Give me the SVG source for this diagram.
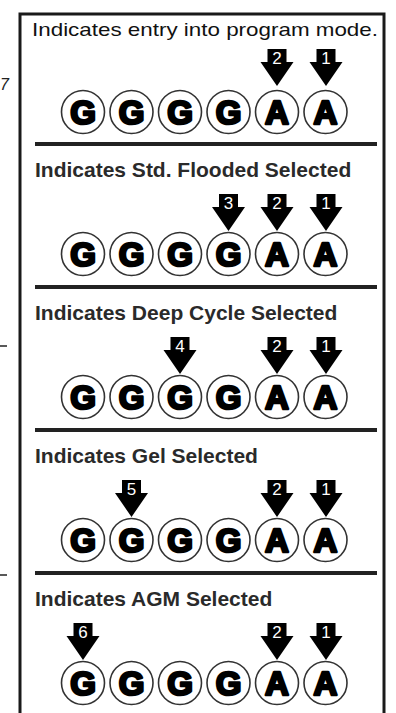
<svg xmlns="http://www.w3.org/2000/svg" width="396" height="713" viewBox="0 0 396 713">
<defs>
<style>
.frame{fill:none;stroke:#1a1a1a;stroke-width:3}
.sep{stroke:#222;stroke-width:4}
.ring{fill:#fff;stroke:#333;stroke-width:1.6}
.let{font-family:"Liberation Sans",Arial,sans-serif;font-weight:bold;font-size:33px;fill:#000;stroke:#000;stroke-width:2.6;stroke-linejoin:round;text-anchor:middle}
.num{font-family:"Liberation Sans",Arial,sans-serif;font-size:17px;fill:#fff;text-anchor:middle}
.h1{font-family:"Liberation Sans",Arial,sans-serif;font-size:19px;fill:#111}
.hb{font-family:"Liberation Sans",Arial,sans-serif;font-weight:bold;font-size:21px;fill:#2a2a2a}
.side{font-family:"Liberation Sans",Arial,sans-serif;font-style:italic;font-size:16px;fill:#222}
</style>
<circle id="c" class="ring" cx="0" cy="0" r="21.5"/>
<path id="ar" d="M-9.5,0 H9.5 V13 H16.5 L0,37 L-16.5,13 H-9.5 Z"/>
</defs>

<text class="side" x="0" y="90">7</text>
<line x1="0" y1="346" x2="7" y2="346" stroke="#222" stroke-width="1.5"/>
<line x1="0" y1="575" x2="7" y2="575" stroke="#222" stroke-width="1.5"/>

<rect class="frame" x="20" y="14" width="364" height="710"/>

<g id="connectors" class="sep">
<line x1="35" y1="144" x2="377" y2="144"/>
<line x1="35" y1="287" x2="377" y2="287"/>
<line x1="35" y1="430" x2="377" y2="430"/>
<line x1="35" y1="573" x2="377" y2="573"/>
</g>

<g id="row1">
<text class="h1" x="32" y="36" textLength="346" lengthAdjust="spacingAndGlyphs">Indicates entry into program mode.</text>
<use href="#ar" x="277" y="49"/><use href="#ar" x="326" y="49"/>
<text class="num" x="277" y="64">2</text><text class="num" x="326" y="64">1</text>
<use href="#c" x="83" y="112"/><use href="#c" x="131.5" y="112"/><use href="#c" x="180" y="112"/><use href="#c" x="228.5" y="112"/><use href="#c" x="277" y="112"/><use href="#c" x="325.5" y="112"/>
<text class="let" x="83" y="124">G</text><text class="let" x="131.5" y="124">G</text><text class="let" x="180" y="124">G</text><text class="let" x="228.5" y="124">G</text><text class="let" x="277" y="124">A</text><text class="let" x="325.5" y="124">A</text>
</g>

<g id="row2">
<text class="hb" x="35" y="177">Indicates Std. Flooded Selected</text>
<use href="#ar" x="228.5" y="194"/><use href="#ar" x="277" y="194"/><use href="#ar" x="326" y="194"/>
<text class="num" x="228.5" y="209">3</text><text class="num" x="277" y="209">2</text><text class="num" x="326" y="209">1</text>
<use href="#c" x="83" y="254"/><use href="#c" x="131.5" y="254"/><use href="#c" x="180" y="254"/><use href="#c" x="228.5" y="254"/><use href="#c" x="277" y="254"/><use href="#c" x="325.5" y="254"/>
<text class="let" x="83" y="266">G</text><text class="let" x="131.5" y="266">G</text><text class="let" x="180" y="266">G</text><text class="let" x="228.5" y="266">G</text><text class="let" x="277" y="266">A</text><text class="let" x="325.5" y="266">A</text>
</g>

<g id="row3">
<text class="hb" x="35" y="320">Indicates Deep Cycle Selected</text>
<use href="#ar" x="180" y="337"/><use href="#ar" x="277" y="337"/><use href="#ar" x="326" y="337"/>
<text class="num" x="180" y="352">4</text><text class="num" x="277" y="352">2</text><text class="num" x="326" y="352">1</text>
<use href="#c" x="83" y="397"/><use href="#c" x="131.5" y="397"/><use href="#c" x="180" y="397"/><use href="#c" x="228.5" y="397"/><use href="#c" x="277" y="397"/><use href="#c" x="325.5" y="397"/>
<text class="let" x="83" y="409">G</text><text class="let" x="131.5" y="409">G</text><text class="let" x="180" y="409">G</text><text class="let" x="228.5" y="409">G</text><text class="let" x="277" y="409">A</text><text class="let" x="325.5" y="409">A</text>
</g>

<g id="row4">
<text class="hb" x="35" y="463">Indicates Gel Selected</text>
<use href="#ar" x="131.5" y="480"/><use href="#ar" x="277" y="480"/><use href="#ar" x="326" y="480"/>
<text class="num" x="131.5" y="495">5</text><text class="num" x="277" y="495">2</text><text class="num" x="326" y="495">1</text>
<use href="#c" x="83" y="540"/><use href="#c" x="131.5" y="540"/><use href="#c" x="180" y="540"/><use href="#c" x="228.5" y="540"/><use href="#c" x="277" y="540"/><use href="#c" x="325.5" y="540"/>
<text class="let" x="83" y="552">G</text><text class="let" x="131.5" y="552">G</text><text class="let" x="180" y="552">G</text><text class="let" x="228.5" y="552">G</text><text class="let" x="277" y="552">A</text><text class="let" x="325.5" y="552">A</text>
</g>

<g id="row5">
<text class="hb" x="35" y="606">Indicates AGM Selected</text>
<use href="#ar" x="83" y="623"/><use href="#ar" x="277" y="623"/><use href="#ar" x="326" y="623"/>
<text class="num" x="83" y="638">6</text><text class="num" x="277" y="638">2</text><text class="num" x="326" y="638">1</text>
<use href="#c" x="83" y="683"/><use href="#c" x="131.5" y="683"/><use href="#c" x="180" y="683"/><use href="#c" x="228.5" y="683"/><use href="#c" x="277" y="683"/><use href="#c" x="325.5" y="683"/>
<text class="let" x="83" y="695">G</text><text class="let" x="131.5" y="695">G</text><text class="let" x="180" y="695">G</text><text class="let" x="228.5" y="695">G</text><text class="let" x="277" y="695">A</text><text class="let" x="325.5" y="695">A</text>
</g>
</svg>
